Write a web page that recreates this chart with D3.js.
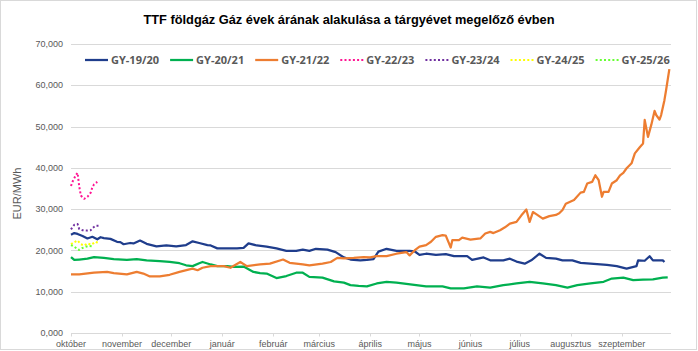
<!DOCTYPE html>
<html>
<head>
<meta charset="utf-8">
<script src="https://cdn.jsdelivr.net/npm/d3@7"></script>
<style>
  body { margin: 0; background: #fff; }
  svg { display: block; }
</style>
</head>
<body>
<div id="chart"></div>
<script>
// series names shown in the legend
let seriesNames = ["GY-19/20", "GY-20/21", "GY-21/22", "GY-22/23", "GY-23/24", "GY-24/25", "GY-25/26"];

// month labels of the x axis (gas year starts in october)
let monthLabels = ["október", "november", "december", "január", "február", "március",
    "április", "május", "június", "július", "augusztus", "szeptember"];

let yTicks = [0, 10, 20, 30, 40, 50, 60, 70];

// [day since 1 october, EUR/MWh]
let gy1920 = [[0, 23.8], [2, 24.2], [4, 24.0], [7, 23.5], [10, 22.9], [13, 23.3], [16, 22.7], [18, 23.2],
    [20, 23.0], [24, 22.8], [28, 22.1], [30, 22.0], [32, 21.5], [36, 21.8], [38, 21.7], [42, 22.4],
    [46, 21.6], [52, 21.0], [58, 21.2], [64, 21.0], [70, 21.3], [74, 22.2], [78, 21.8], [83, 21.3],
    [85, 21.2], [89, 20.5], [95, 20.5], [101, 20.5], [105, 20.6], [108, 21.7], [113, 21.2], [119, 20.9],
    [125, 20.5], [131, 19.9], [137, 19.9], [141, 20.2], [145, 19.9], [149, 20.4], [156, 20.2], [161, 19.6],
    [166, 18.3], [170, 17.8], [176, 17.6], [180, 17.7], [184, 17.9], [187, 19.7], [192, 20.4], [198, 19.9],
    [206, 19.9], [209, 19.8], [212, 18.9], [216, 19.2], [222, 18.9], [228, 19.1], [233, 18.6], [241, 18.6],
    [244, 17.7], [251, 18.3], [255, 17.6], [263, 17.6], [267, 18.0], [271, 17.3], [276, 16.8], [280, 17.6],
    [285, 19.2], [289, 18.2], [295, 18.0], [299, 17.6], [305, 17.6], [310, 17.0], [320, 16.7], [326, 16.5],
    [332, 16.2], [338, 15.6], [341, 15.9], [344, 16.2], [345, 17.6], [349, 17.5], [352, 18.6], [354, 17.6],
    [360, 17.6], [361, 17.2]];

let gy2021 = [[0, 18.4], [2, 17.7], [5, 17.8], [10, 18.0], [14, 18.4], [20, 18.2], [26, 17.9], [34, 17.7],
    [40, 17.9], [46, 17.6], [54, 17.4], [60, 17.2], [66, 16.9], [70, 16.4], [74, 16.2], [78, 16.9],
    [80, 17.2], [85, 16.6], [89, 16.2], [95, 16.2], [99, 16.0], [105, 16.1], [111, 14.8], [115, 14.5],
    [119, 14.4], [125, 13.3], [131, 13.8], [137, 14.6], [141, 14.6], [145, 13.6], [153, 13.4], [160, 12.5],
    [166, 12.2], [170, 11.6], [175, 11.4], [180, 11.3], [186, 12.0], [192, 12.4], [198, 12.2], [210, 11.6],
    [216, 11.3], [226, 11.3], [231, 10.8], [239, 10.8], [247, 11.3], [255, 11.0], [263, 11.6], [271, 12.0],
    [279, 12.4], [287, 12.0], [295, 11.6], [302, 11.0], [308, 11.6], [316, 12.0], [324, 12.4], [329, 13.2],
    [336, 13.4], [342, 12.8], [348, 12.9], [354, 13.0], [360, 13.4], [363, 13.5]];

let gy2122 = [[0, 14.2], [5, 14.2], [14, 14.6], [22, 14.8], [26, 14.5], [34, 14.2], [40, 14.8], [44, 14.4],
    [48, 13.7], [54, 13.7], [60, 14.1], [66, 14.8], [72, 15.4], [74, 15.6], [77, 15.2], [80, 15.8],
    [85, 16.2], [89, 16.2], [93, 16.2], [97, 15.8], [103, 17.2], [107, 16.2], [115, 16.6], [121, 16.8],
    [129, 17.8], [133, 17.0], [141, 16.6], [145, 16.4], [153, 16.8], [158, 17.2], [162, 18.2], [166, 18.1],
    [172, 18.2], [178, 18.4], [182, 18.3], [186, 18.6], [192, 18.6], [198, 19.2], [204, 19.6], [206, 18.8],
    [209, 20.0], [212, 20.9], [216, 21.3], [219, 22.1], [222, 23.3], [226, 23.7], [228, 23.6], [229, 22.6],
    [231, 20.7], [232, 22.5], [236, 22.5], [238, 23.1], [243, 22.6], [249, 22.9], [252, 24.1], [255, 24.5],
    [257, 24.2], [261, 24.9], [264, 25.6], [267, 26.5], [271, 26.9], [274, 28.5], [277, 29.9], [279, 26.9],
    [281, 29.3], [283, 28.8], [287, 27.7], [291, 28.3], [295, 28.6], [297, 29.0], [299, 29.8], [301, 31.3],
    [306, 32.2], [310, 34.0], [312, 34.2], [314, 36.2], [317, 36.6], [319, 38.2], [321, 37.0], [323, 33.0],
    [324, 34.2], [327, 34.2], [329, 36.2], [332, 37.0], [334, 38.2], [336, 38.8], [338, 39.9], [341, 41.1],
    [343, 43.5], [346, 45.0], [348, 45.9], [349, 51.6], [351, 47.5], [353, 50.4], [355, 53.8], [356, 52.8],
    [358, 51.7], [359, 52.8], [361, 56.4], [362, 58.8], [364, 63.9]];

let gy2223 = [[0, 35.6], [1, 36.7], [2, 37.5], [3, 38.3], [4, 38.8], [5, 35.5], [6, 33.3], [8, 32.5],
    [10, 33.0], [12, 34.0], [13, 35.3], [14, 36.0], [16, 36.6]];

let gy2324 = [[0, 25.1], [1, 25.7], [2, 26.2], [4, 26.4], [5, 25.2], [7, 24.9], [10, 24.8], [12, 24.9],
    [13, 25.4], [15, 26.0], [17, 26.0], [18, 25.9]];

let gy2425 = [[0, 21.5], [2, 22.0], [4, 22.4], [6, 21.5], [8, 21.2], [10, 21.7], [12, 21.4], [14, 21.8],
    [15, 22.1], [17, 21.7]];

let gy2526 = [[0, 21.3], [2, 20.9], [4, 20.3], [5, 20.1], [7, 20.6], [9, 20.9], [11, 21.1], [13, 21.0]];

// styles
let colors = ["#1f3d8c", "#00b050", "#ed7d31", "#ff1493", "#7030a0", "#ffff00", "#66ff33"];
let dotted = [false, false, false, true, true, true, true];

let width = 698, height = 351;
let margin = {top: 44, right: 27, bottom: 18, left: 71};
let gridColor = "#d9d9d9", textColor = "#595959";

function init() {
    let series = [gy1920, gy2021, gy2122, gy2223, gy2324, gy2425, gy2526];
    let start = new Date(2020, 9, 1), end = new Date(2021, 9, 1);
    let toDate = function (d) { return new Date(2020, 9, 1 + d); };

    let svg = d3.select("#chart").append("svg")
        .attr("width", width)
        .attr("height", height);

    // chart border
    svg.append("rect")
        .attr("x", 0.5).attr("y", 0.5)
        .attr("width", width - 2).attr("height", height - 2)
        .attr("fill", "#fff")
        .attr("stroke", gridColor);

    let x = d3.scaleTime()
        .domain([start, end])
        .range([margin.left, width - margin.right]);

    let y = d3.scaleLinear()
        .domain([0, 70])
        .range([height - margin.bottom, margin.top]);

    let huFormat = d3.formatLocale({decimal: ",", thousands: " ", grouping: [3], currency: ["", ""]}).format(".3f");

    // horizontal grid
    svg.append("g").selectAll("line")
        .data(yTicks)
        .enter()
        .append("line")
        .attr("x1", margin.left)
        .attr("x2", width - margin.right)
        .attr("y1", function (d) { return Math.round(y(d)) + 0.5; })
        .attr("y2", function (d) { return Math.round(y(d)) + 0.5; })
        .style("stroke", gridColor);

    // y axis labels
    svg.append("g").selectAll("text")
        .data(yTicks)
        .enter()
        .append("text")
        .attr("x", margin.left - 8)
        .attr("y", function (d) { return y(d); })
        .attr("dy", "0.35em")
        .attr("text-anchor", "end")
        .style("font", "9px 'Liberation Sans', Arial, sans-serif")
        .style("fill", textColor)
        .text(huFormat);

    svg.append("text")
        .attr("transform", "translate(21," + ((margin.top + height - margin.bottom) / 2 + 5) + ") rotate(-90)")
        .attr("text-anchor", "middle")
        .style("font", "11px 'Liberation Sans', Arial, sans-serif")
        .style("fill", textColor)
        .text("EUR/MWh");

    // x axis with month ticks
    let months = d3.timeMonth.range(start, end);
    let xAxis = svg.append("g")
        .attr("transform", "translate(0," + (Math.round(y(0)) + 0.5) + ")");
    xAxis.selectAll("line")
        .data(months)
        .enter()
        .append("line")
        .attr("x1", function (d) { return Math.round(x(d)) + 0.5; })
        .attr("x2", function (d) { return Math.round(x(d)) + 0.5; })
        .attr("y1", 0)
        .attr("y2", 3)
        .style("stroke", gridColor);
    xAxis.selectAll("text")
        .data(months)
        .enter()
        .append("text")
        .attr("x", function (d) { return x(d); })
        .attr("y", 13)
        .attr("text-anchor", "middle")
        .style("font", "9px 'Liberation Sans', Arial, sans-serif")
        .style("fill", textColor)
        .text(function (d, i) { return monthLabels[i]; });

    // series lines
    let line = d3.line()
        .x(function (d) { return x(toDate(d[0])); })
        .y(function (d) { return y(d[1]); });

    svg.append("g").selectAll("path")
        .data(series)
        .enter()
        .append("path")
        .attr("d", line)
        .attr("fill", "none")
        .attr("stroke", function (d, i) { return colors[i]; })
        .attr("stroke-width", function (d, i) { return dotted[i] ? 2 : 2.25; })
        .attr("stroke-dasharray", function (d, i) { return dotted[i] ? "2,2.2" : null; })
        .attr("stroke-linejoin", "round");

    // legend
    let legend = svg.append("g").selectAll("g")
        .data(seriesNames)
        .enter()
        .append("g")
        .attr("transform", function (d, i) { return "translate(" + (85 + i * 85.1) + ",60)"; });
    legend.append("line")
        .attr("x1", 0).attr("x2", 23)
        .attr("y1", 0).attr("y2", 0)
        .attr("stroke", function (d, i) { return colors[i]; })
        .attr("stroke-width", function (d, i) { return dotted[i] ? 2 : 2.25; })
        .attr("stroke-dasharray", function (d, i) { return dotted[i] ? "2,2.2" : null; });
    legend.append("text")
        .attr("x", 26)
        .attr("dy", "0.35em")
        .style("font", "bold 11px 'Open Sans', sans-serif")
        .style("fill", textColor)
        .text(function (d) { return d; });

    // title
    svg.append("text")
        .attr("x", 349)
        .attr("y", 24)
        .attr("text-anchor", "middle")
        .style("font", "bold 12.8px 'Liberation Sans', Arial, sans-serif")
        .style("fill", "#000")
        .text("TTF földgáz Gáz évek árának alakulása a tárgyévet megelőző évben");
}

init();
</script>
</body>
</html>
